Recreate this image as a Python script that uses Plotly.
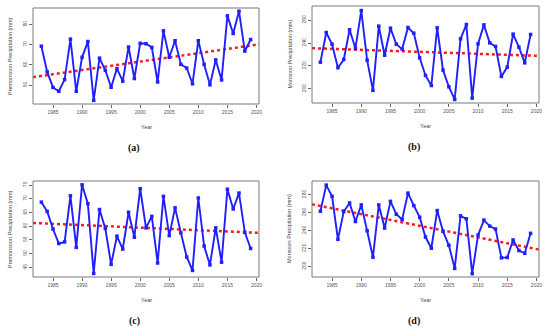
import plotly.graph_objects as go

years = list(range(1983, 2020))

pre_a = [69.3, 56.6, 48.9, 47.0, 52.8, 72.8, 47.0, 63.8, 71.6, 42.5, 63.4, 57.4, 49.0, 58.2, 52.0,
         68.9, 53.3, 70.7, 70.5, 68.7, 51.6, 76.9, 63.8, 72.0, 60.3, 58.5, 50.7, 72.0, 60.3, 50.2,
         62.5, 52.6, 84.3, 75.6, 86.6, 66.9, 72.6]
mon_b = [223.3, 249.2, 239.0, 218.4, 225.6, 251.6, 235.5, 268.4, 225.1, 198.6, 254.8, 229.4, 253.0,
         239.0, 234.7, 253.6, 248.6, 227.1, 211.7, 202.9, 253.3, 216.3, 201.8, 190.7, 243.7, 256.2,
         191.9, 239.3, 255.9, 240.2, 237.0, 210.8, 219.0, 247.8, 236.4, 222.7, 247.5]
pre_c = [68.8, 65.4, 59.0, 53.7, 54.3, 71.1, 52.3, 75.1, 68.2, 42.8, 66.1, 59.2, 46.1, 56.4, 51.7,
         65.1, 56.0, 73.7, 59.4, 63.6, 46.6, 70.9, 56.6, 66.7, 57.6, 48.8, 43.9, 70.3, 52.8, 45.9,
         59.4, 46.9, 73.5, 66.3, 72.1, 57.8, 51.9]
mon_d = [261.6, 290.7, 278.2, 230.2, 261.2, 270.8, 250.1, 268.6, 239.8, 210.3, 268.6, 242.8, 272.6,
         258.2, 252.4, 281.8, 267.8, 254.9, 232.8, 220.3, 262.3, 239.1, 223.6, 197.8, 256.4, 253.1,
         191.9, 235.0, 251.6, 245.0, 241.7, 209.6, 210.0, 229.5, 217.7, 214.7, 236.9]

trend_x = [1981.56, 2020.44]
trend_a = [54.0, 70.2]
trend_b = [235.5, 228.8]
trend_c = [61.2, 57.6]
trend_d = [269.3, 218.8]

x_ticks = [1985, 1990, 1995, 2000, 2005, 2010, 2015, 2020]
y_ticks_a = [50, 60, 70, 80]
y_ticks_b = [200, 220, 240, 260]
y_ticks_c = [45, 50, 55, 60, 65, 70, 75]
y_ticks_d = [200, 220, 240, 260, 280]

panel_labels = ["(a)", "(b)", "(c)", "(d)"]
y_titles = ["Premonsoon Precipitation (mm)", "Monsoon Precipitation (mm)",
            "Premonsoon Precipitation (mm)", "Monsoon Precipitation (mm)"]

W, H = 550, 333
# frames in pixels: left, right, top, bottom
frames = [(33, 259, 8, 104), (312, 539, 6, 103), (33, 259, 181, 277), (312, 539, 181, 277)]
yranges = [[40.7, 88.2], [187.6, 272.4], [41.5, 76.5], [188.2, 295.3]]
series = [pre_a, mon_b, pre_c, mon_d]
trends = [trend_a, trend_b, trend_c, trend_d]
yticks = [y_ticks_a, y_ticks_b, y_ticks_c, y_ticks_d]

fig = go.Figure()
layout = dict(width=W, height=H, margin=dict(l=0, r=0, t=0, b=0, autoexpand=False),
              paper_bgcolor="white", plot_bgcolor="white", showlegend=False)
annotations = []
shapes = []
tickfont = dict(family="Liberation Sans, Arial", size=5, color="#555555")
labfont = dict(family="Liberation Sans, Arial", size=5.5, color="#444444")

for i in range(4):
    l, r, t, b = frames[i]
    sfx = "" if i == 0 else str(i + 1)
    xa, ya = "xaxis" + sfx, "yaxis" + sfx
    xref, yref = "x" + sfx, "y" + sfx
    layout[xa] = dict(domain=[l / W, r / W], range=[1981.56, 2020.44], anchor=yref,
                      tickmode="array", tickvals=x_ticks, ticks="outside", ticklen=3,
                      tickcolor="#666666", showgrid=False, zeroline=False, showline=False,
                      tickfont=tickfont, automargin=False, ticklabeloverflow="allow")
    layout[ya] = dict(domain=[1 - b / H, 1 - t / H], range=yranges[i], anchor=xref,
                      tickmode="array", tickvals=yticks[i], ticks="outside", ticklen=3,
                      tickcolor="#666666", showgrid=False, zeroline=False, showline=False,
                      tickfont=tickfont, tickangle=-90, automargin=False,
                      ticklabeloverflow="allow")
    shapes.append(dict(type="rect", xref="paper", yref="paper", x0=l / W, x1=r / W,
                       y0=1 - b / H, y1=1 - t / H, line=dict(color="#7a7a7a", width=1),
                       fillcolor="rgba(0,0,0,0)", layer="above"))
    fig.add_trace(go.Scatter(x=trend_x, y=trends[i], mode="lines", xaxis=xref, yaxis=yref,
                             line=dict(color="#ff1a1a", width=2.5, dash="dot")))
    fig.add_trace(go.Scatter(x=years, y=series[i], mode="lines+markers", xaxis=xref, yaxis=yref,
                             line=dict(color="#1f1fff", width=1.9),
                             marker=dict(symbol="square", size=3.5, color="#1f1fff")))
    cx = (l + r) / 2
    annotations.append(dict(text="Year", x=cx / W, y=1 - (b + 23) / H, xref="paper", yref="paper",
                            xanchor="center", yanchor="middle", showarrow=False, font=labfont))
    annotations.append(dict(text=y_titles[i], x=(l - 23) / W, y=1 - ((t + b) / 2) / H,
                            xref="paper", yref="paper", xanchor="center", yanchor="middle",
                            textangle=-90, showarrow=False, font=labfont))
    annotations.append(dict(text="<b>" + panel_labels[i] + "</b>", x=(cx - 12) / W,
                            y=1 - (b + 44) / H, xref="paper", yref="paper", xanchor="center",
                            yanchor="middle", showarrow=False,
                            font=dict(family="Liberation Serif, Times New Roman", size=10, color="#111111")))

layout["annotations"] = annotations
layout["shapes"] = shapes
fig.update_layout(**layout)
fig.write_html("out.html", config={"displayModeBar": False},
               post_script="document.body.style.margin='0';document.body.style.overflow='hidden';")
